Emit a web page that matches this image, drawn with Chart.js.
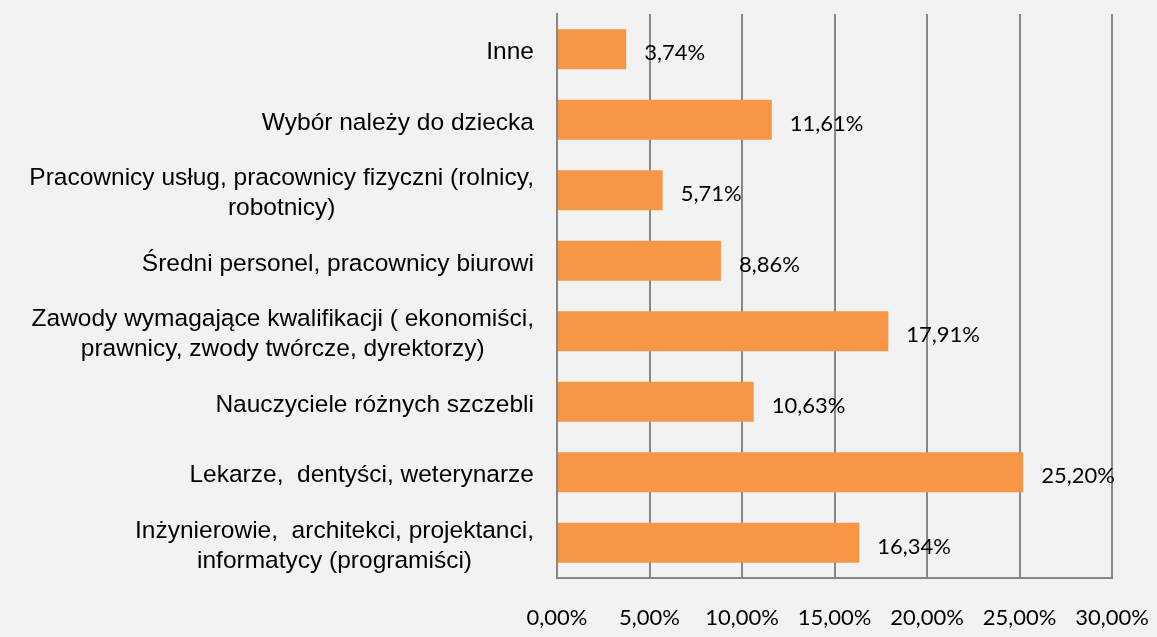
<!DOCTYPE html>
<html>
<head>
<meta charset="utf-8">
<script src="https://cdn.jsdelivr.net/npm/chart.js@4/dist/chart.umd.min.js"></script>
<style>
    html, body { margin: 0; padding: 0; background: #f2f2f2; }
    #wrap { width: 1157px; height: 637px; position: relative; }
</style>
</head>
<body>
<div id="wrap"><canvas id="chart"></canvas></div>
<script>
const categories = [
    ['Inne'],
    ['Wybór należy do dziecka'],
    ['Pracownicy usług, pracownicy fizyczni (rolnicy,', 'robotnicy)'],
    ['Średni personel, pracownicy biurowi'],
    ['Zawody wymagające kwalifikacji ( ekonomiści,', 'prawnicy, zwody twórcze, dyrektorzy)'],
    ['Nauczyciele różnych szczebli'],
    ['Lekarze,  dentyści, weterynarze'],
    ['Inżynierowie,  architekci, projektanci,', 'informatycy (programiści)']
];
const values = [3.74, 11.61, 5.71, 8.86, 17.91, 10.63, 25.20, 16.34];
const valueLabels = ['3,74%', '11,61%', '5,71%', '8,86%', '17,91%', '10,63%', '25,20%', '16,34%'];
const xTickLabels = ['0,00%', '5,00%', '10,00%', '15,00%', '20,00%', '25,00%', '30,00%'];

const labelFont = '24.5px "Liberation Sans", Arial, sans-serif';
const valueFont = '22px Lato, "Open Sans", sans-serif';

// category labels: block right-aligned, lines centred inside the block
const categoryLabels = {
    id: 'categoryLabels',
    afterDraw(chart) {
        const ctx = chart.ctx;
        const y = chart.scales.y;
        ctx.save();
        ctx.font = labelFont;
        ctx.fillStyle = '#000';
        ctx.textAlign = 'center';
        ctx.textBaseline = 'middle';
        const lineH = 30;
        categories.forEach((lines, i) => {
            const cy = y.getPixelForValue(i);
            const w = Math.max(...lines.map(l => ctx.measureText(l).width));
            const cx = 534 - w / 2;
            const top = cy - (lines.length - 1) * lineH / 2;
            lines.forEach((l, j) => ctx.fillText(l, cx, top + j * lineH + 3));
        });
        ctx.restore();
    }
};

// value labels right of each bar
const valueLabelPlugin = {
    id: 'valueLabels',
    afterDatasetsDraw(chart) {
        const ctx = chart.ctx;
        const meta = chart.getDatasetMeta(0);
        ctx.save();
        ctx.font = valueFont;
        ctx.fillStyle = '#000';
        ctx.textAlign = 'left';
        ctx.textBaseline = 'middle';
        meta.data.forEach((bar, i) => {
            ctx.fillText(valueLabels[i], bar.x + 18, bar.y + 4);
        });
        ctx.restore();
    }
};

new Chart(document.getElementById('chart'), {
    type: 'bar',
    data: {
        labels: categories.map(c => c.join(' ')),
        datasets: [{
            data: values,
            backgroundColor: '#f79646',
            borderWidth: 0,
            categoryPercentage: 1,
            barPercentage: 0.57
        }]
    },
    options: {
        indexAxis: 'y',
        responsive: true,
        maintainAspectRatio: false,
        animation: false,
        layout: { padding: { top: 14, right: 45, left: 0, bottom: 0 } },
        plugins: {
            legend: { display: false },
            tooltip: { enabled: false }
        },
        scales: {
            x: {
                min: 0,
                max: 30,
                ticks: {
                    stepSize: 5,
                    padding: 27,
                    color: '#000',
                    font: { family: 'Lato', size: 22 },
                    callback: (v, i) => xTickLabels[i]
                },
                grid: { color: '#878787', lineWidth: 2, drawTicks: false },
                border: { color: '#878787', width: 2 },
                afterFit(scale) {
                    scale.height = 59;
                    scale.paddingLeft = 0;
                    scale.paddingRight = 0;
                }
            },
            y: {
                ticks: { display: false },
                grid: { display: false, drawTicks: false },
                border: { color: '#878787', width: 2 },
                afterFit(scale) { scale.width = 557; }
            }
        }
    },
    plugins: [categoryLabels, valueLabelPlugin]
});
</script>
</body>
</html>
